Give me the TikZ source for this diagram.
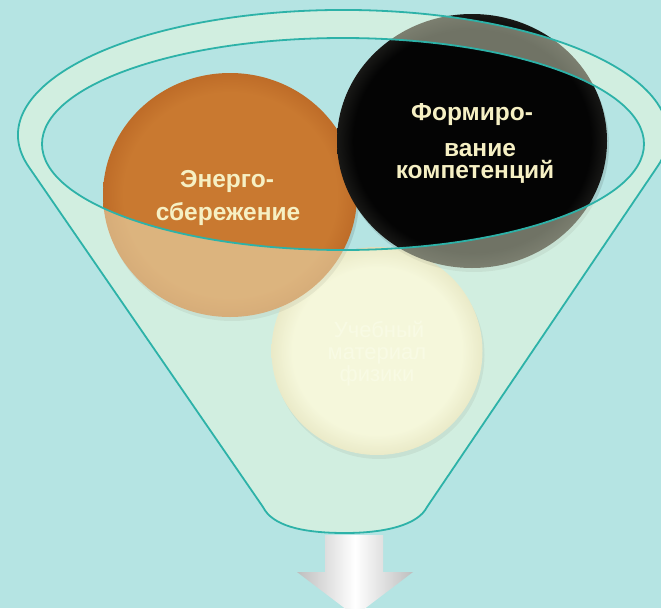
\documentclass[tikz,border=0pt]{standalone}
\usepackage{fontspec}
\setmainfont{Liberation Sans}
\definecolor{bgc}{RGB}{181,228,227}
\definecolor{mintc}{RGB}{245,252,221}
\definecolor{fline}{RGB}{45,178,168}
\definecolor{txtc}{RGB}{246,240,196}
\definecolor{orC}{RGB}{201,121,48}
\definecolor{orE}{RGB}{190,108,40}
\definecolor{blC}{RGB}{4,4,4}
\definecolor{blE}{RGB}{24,24,22}
\definecolor{crC}{RGB}{246,244,218}
\definecolor{crE}{RGB}{226,220,184}
\definecolor{crT}{RGB}{251,250,234}
\definecolor{arrG}{RGB}{190,190,190}
\pgfdeclareradialshading{orball}{\pgfpoint{0bp}{0bp}}{color(0bp)=(orC); color(21bp)=(orC); color(25bp)=(orE); color(50bp)=(orE)}
\pgfdeclareradialshading{blball}{\pgfpoint{0bp}{0bp}}{color(0bp)=(blC); color(22bp)=(blC); color(25bp)=(blE); color(50bp)=(blE)}
\pgfdeclareradialshading{crball}{\pgfpoint{0bp}{0bp}}{color(0bp)=(crC); color(20bp)=(crC); color(25bp)=(crE); color(50bp)=(crE)}
\begin{document}
\begin{tikzpicture}[x=1pt,y=1pt,
  boldtxt/.style={anchor=base, inner sep=0pt, text=txtc, font=\bfseries\fontsize{24.5}{28}\selectfont},
  lighttxt/.style={anchor=base, inner sep=0pt, text=crT, font=\fontsize{22}{26}\selectfont},
  shadowfill/.style={fill=black, opacity=0.10},
  funnelfill/.style={fill=mintc, fill opacity=0.45, even odd rule},
  funneledge/.style={draw=fline, line width=1.8pt, line join=round}]
\useasboundingbox (0,0) rectangle (661,-608);
\clip (0,0) rectangle (661,-608);
\fill[bgc] (0,0) rectangle (661,-608);

% cream circle
\fill[shadowfill] (379,-355) ellipse[x radius=105.5, y radius=104];
\shade[shading=crball] (377,-351) ellipse[x radius=105.5, y radius=104];
\node[lighttxt] (t1) at (379,-337) {Учебный};
\node[lighttxt] (t2) at (377,-359) {материал};
\node[lighttxt] (t3) at (377,-381) {физики};

% orange circle
\fill[shadowfill] (232,-199) ellipse[x radius=127, y radius=122];
\shade[shading=orball] (230,-195) ellipse[x radius=127, y radius=122];
\node[boldtxt] (e1) at (227,-187) {Энерго-};
\node[boldtxt] (e2) at (228,-220) {сбережение};

% black circle
\fill[shadowfill] (474,-145) ellipse[x radius=135, y radius=127];
\shade[shading=blball] (472,-141) ellipse[x radius=135, y radius=127];
\node[boldtxt] (f1) at (472,-120) {Формиро-};
\node[boldtxt] (f2) at (480,-156) {вание};
\node[boldtxt] (f3) at (475,-178) {компетенций};

% funnel
\path[funnelfill]
  (28.8,-166.9) arc[start angle=194.8, end angle=-14.6, x radius=325, y radius=125]
  -- (427,-507) .. controls (418,-525) and (385,-533) .. (345,-533)
  .. controls (300,-533) and (272,-525) .. (263,-507) -- cycle
  (343,-144) ellipse[x radius=301, y radius=106];
\draw[funneledge]
  (28.8,-166.9) arc[start angle=194.8, end angle=-14.6, x radius=325, y radius=125]
  -- (427,-507) .. controls (418,-525) and (385,-533) .. (345,-533)
  .. controls (300,-533) and (272,-525) .. (263,-507) -- cycle;
\draw[funneledge] (343,-144) ellipse[x radius=301, y radius=106];

% arrow
\shade[left color=arrG, right color=arrG, middle color=white]
  (325,-535) -- (383,-535) -- (383,-572) -- (413,-572) -- (355,-616)
  -- (297,-572) -- (325,-572) -- cycle;
\end{tikzpicture}
\end{document}
